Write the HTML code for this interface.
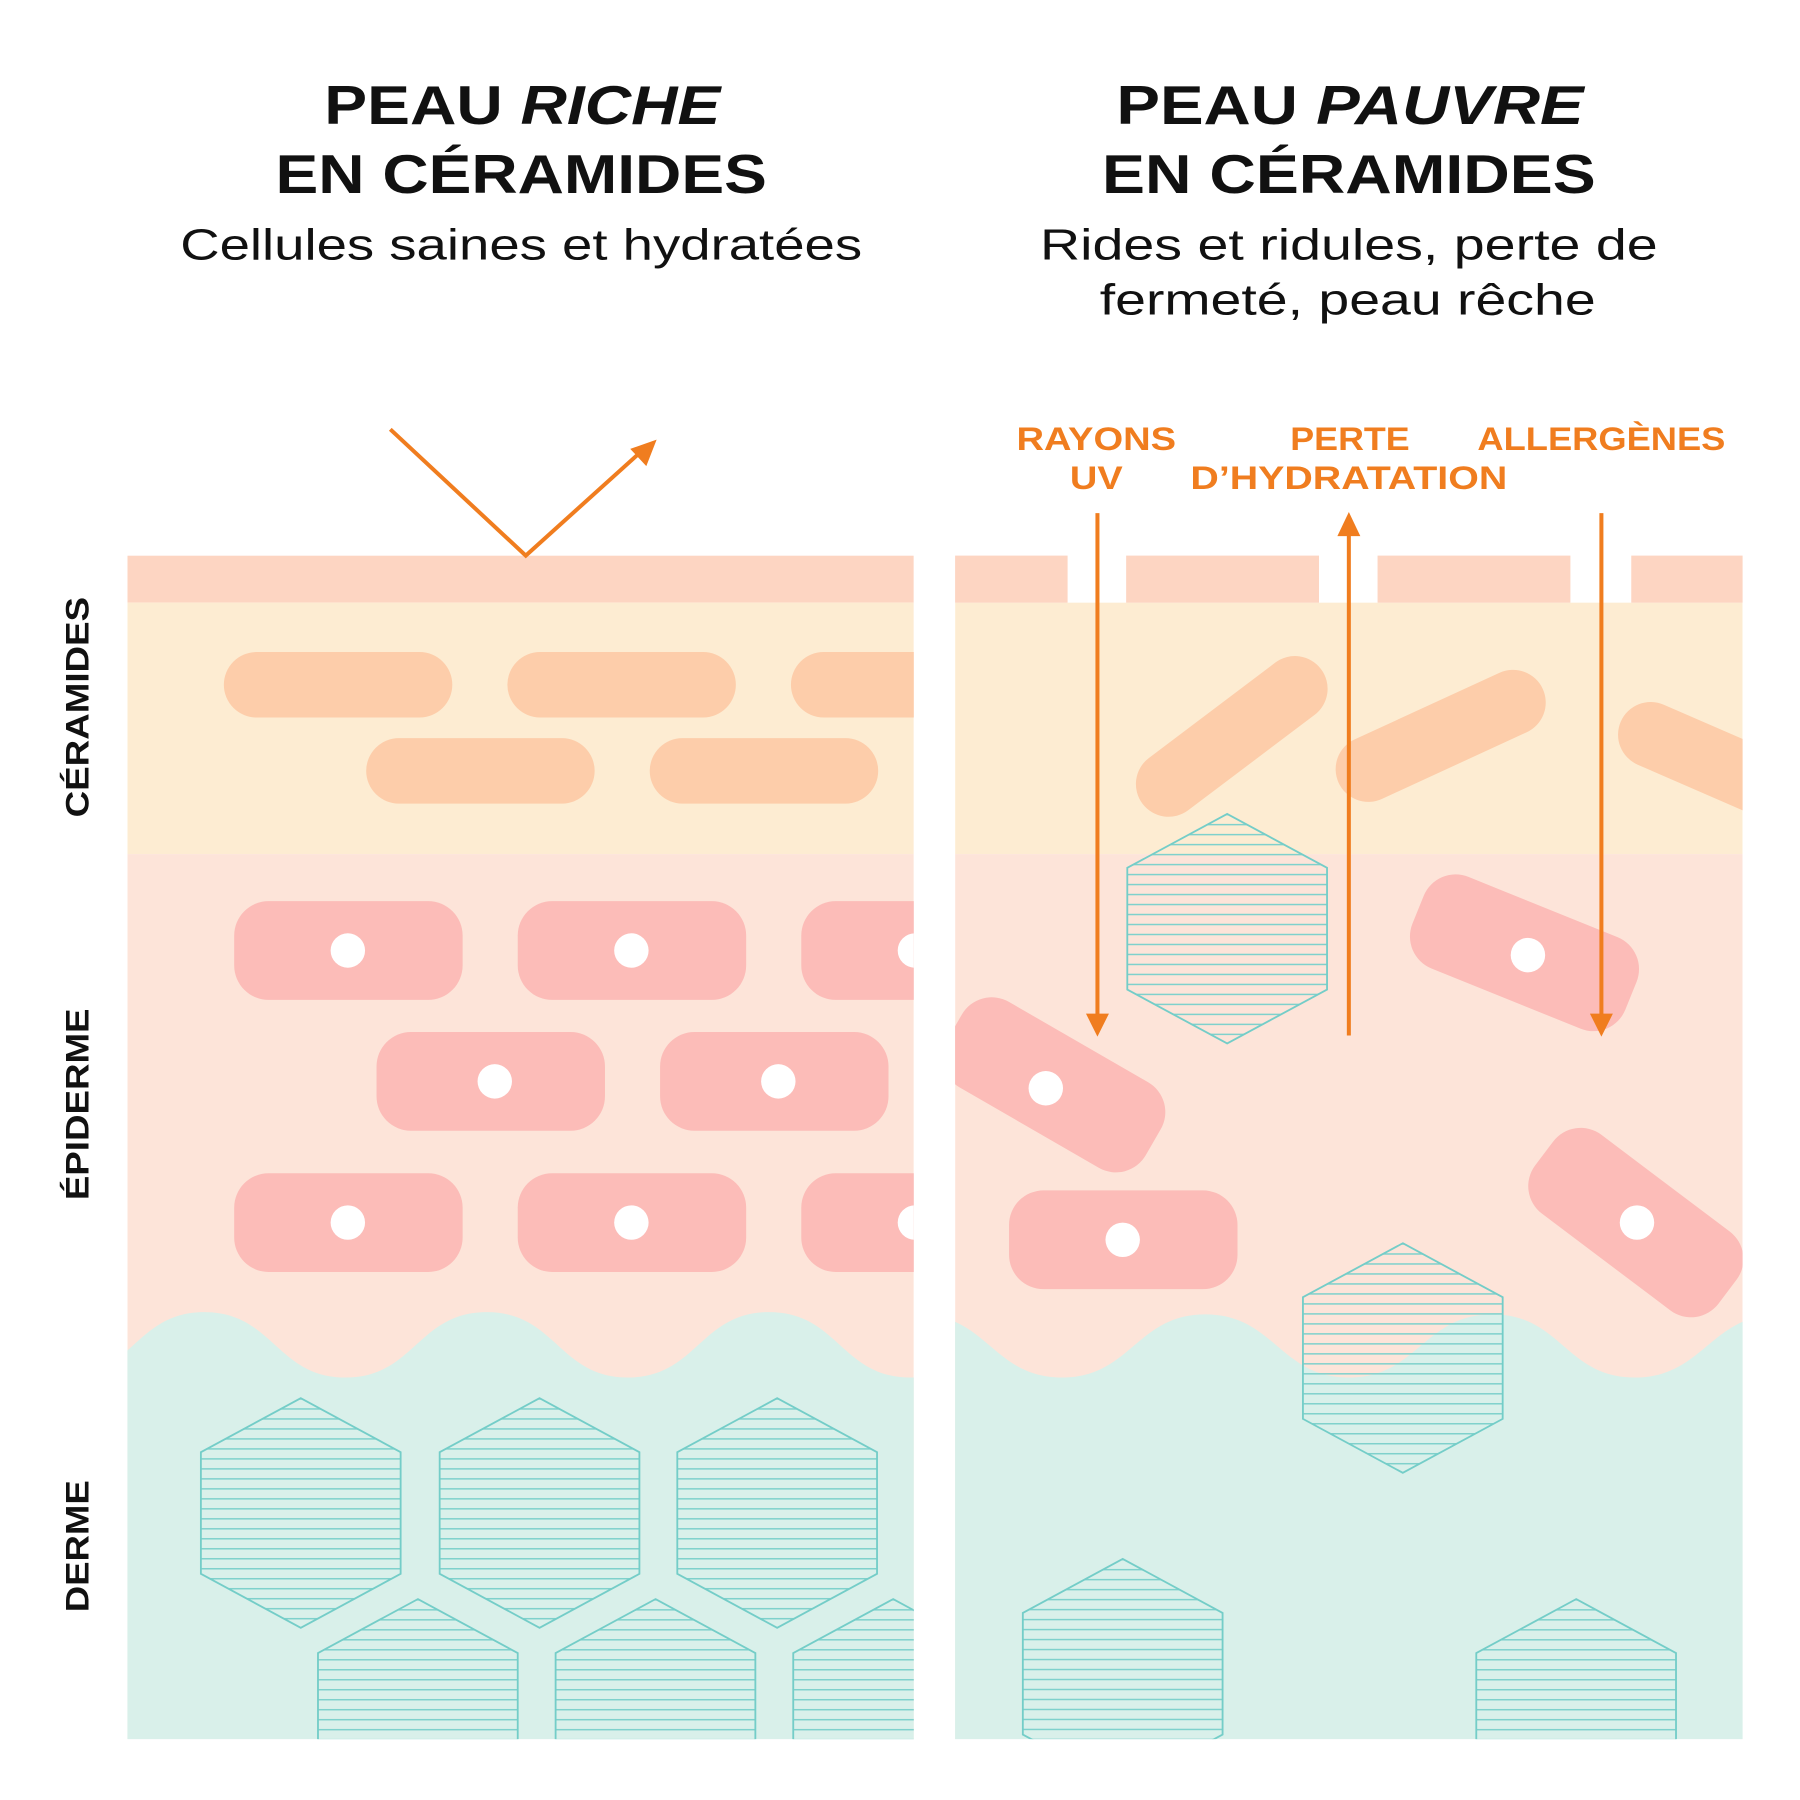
<!DOCTYPE html>
<html><head><meta charset="utf-8"><style>html,body{margin:0;padding:0;background:#fff}svg{display:block}</style></head><body>
<svg width="1800" height="1800" viewBox="0 0 1568 1568" xmlns="http://www.w3.org/2000/svg" font-family="'Liberation Sans', sans-serif">
<defs>
<pattern id="hatch" patternUnits="userSpaceOnUse" width="20" height="8.7"><line x1="0" y1="0.7" x2="20" y2="0.7" stroke="#7fd1cc" stroke-width="1.3"/></pattern>
<clipPath id="cl"><rect x="111" y="484" width="685" height="1031"/></clipPath>
<clipPath id="cr"><rect x="832" y="484" width="686" height="1031"/></clipPath>
<g id="hex"><path d="M0,0 L87,47 L87,153 L0,200 L-87,153 L-87,47 Z" fill="url(#hatch)" stroke="#74cdc8" stroke-width="1.6"/></g>
</defs>
<rect width="1568" height="1568" fill="#fff"/>

<!-- LEFT PANEL -->
<g clip-path="url(#cl)">
<rect x="111" y="484" width="685" height="41" fill="#fdd5c2"/>
<rect x="111" y="525" width="685" height="219" fill="#fdecd2"/>
<rect x="111" y="744" width="685" height="771" fill="#fde4d9"/>
<g fill="#fdcdaa">
<rect x="195" y="568" width="199" height="57" rx="28.5"/><rect x="442" y="568" width="199" height="57" rx="28.5"/><rect x="689" y="568" width="199" height="57" rx="28.5"/>
<rect x="319" y="643" width="199" height="57" rx="28.5"/><rect x="566" y="643" width="199" height="57" rx="28.5"/>
</g>
<g fill="#fcbcb8">
<rect x="204" y="785" width="199" height="86" rx="30"/><rect x="451" y="785" width="199" height="86" rx="30"/><rect x="698" y="785" width="199" height="86" rx="30"/>
<rect x="328" y="899" width="199" height="86" rx="30"/><rect x="575" y="899" width="199" height="86" rx="30"/>
<rect x="204" y="1022" width="199" height="86" rx="30"/><rect x="451" y="1022" width="199" height="86" rx="30"/><rect x="698" y="1022" width="199" height="86" rx="30"/>
</g>
<g fill="#fff">
<circle cx="303" cy="828" r="15"/><circle cx="550" cy="828" r="15"/><circle cx="797" cy="828" r="15"/>
<circle cx="431" cy="942" r="15"/><circle cx="678" cy="942" r="15"/>
<circle cx="303" cy="1065" r="15"/><circle cx="550" cy="1065" r="15"/><circle cx="797" cy="1065" r="15"/>
</g>
<path d="M55,1200 C115,1200 118,1143 178,1143 C238,1143 241,1200 301,1200 C361,1200 364,1143 424,1143 C484,1143 487,1200 547,1200 C607,1200 610,1143 670,1143 C730,1143 733,1200 793,1200 C853,1200 856,1143 916,1143 L916,1600 L55,1600 Z" fill="#d9f0ea"/>
<use href="#hex" x="262" y="1218"/><use href="#hex" x="470" y="1218"/><use href="#hex" x="677" y="1218"/>
<use href="#hex" x="364" y="1393"/><use href="#hex" x="571" y="1393"/><use href="#hex" x="778" y="1393"/>
</g>

<!-- RIGHT PANEL -->
<g clip-path="url(#cr)">
<rect x="832" y="525" width="686" height="219" fill="#fdecd2"/>
<rect x="832" y="744" width="686" height="771" fill="#fde4d9"/>
<path d="M675,1200 C735,1200 740,1145 800,1145 C860,1145 865,1200 925,1200 C985,1200 990,1145 1050,1145 C1110,1145 1115,1200 1175,1200 C1235,1200 1240,1145 1300,1145 C1360,1145 1364,1200 1424,1200 C1484,1200 1490,1145 1550,1145 L1550,1600 L675,1600 Z" fill="#d9f0ea"/>
<g stroke="#fdcdaa" stroke-width="57" stroke-linecap="round" fill="none">
<line x1="1018" y1="683" x2="1128" y2="600"/>
<line x1="1192" y1="670" x2="1318" y2="612"/>
<line x1="1438" y1="640" x2="1530" y2="680"/>
</g>
<use href="#hex" x="1069" y="709"/>
<g fill="#fcbcb8">
<rect x="-100" y="-43" width="200" height="86" rx="30" transform="translate(918,945) rotate(30)"/>
<rect x="-100" y="-43" width="200" height="86" rx="30" transform="translate(1328,830) rotate(22)"/>
<rect x="879" y="1037" width="199" height="86" rx="30"/>
<rect x="-100" y="-43" width="200" height="86" rx="30" transform="translate(1425,1065) rotate(37)"/>
</g>
<g fill="#fff">
<circle cx="911" cy="948" r="15"/><circle cx="1331" cy="832" r="15"/><circle cx="978" cy="1080" r="15"/><circle cx="1426" cy="1065" r="15"/>
</g>
<use href="#hex" x="1222" y="1083"/>
<use href="#hex" x="978" y="1358"/>
<use href="#hex" x="1373" y="1393"/>
</g>
<g fill="#fdd5c2">
<rect x="832" y="484" width="98" height="41"/><rect x="981" y="484" width="168" height="41"/><rect x="1200" y="484" width="168" height="41"/><rect x="1421" y="484" width="97" height="41"/>
</g>

<!-- ARROWS -->
<g stroke="#f07d1f" stroke-width="3.5" fill="none">
<polyline points="340,374 458,484 560,392"/>
<line x1="956" y1="447" x2="956" y2="886"/>
<line x1="1175" y1="465" x2="1175" y2="902"/>
<line x1="1395" y1="447" x2="1395" y2="886"/>
</g>
<g fill="#f07d1f">
<polygon points="572,383 563,406 549,391"/>
<polygon points="956,903 946,883 966,883"/>
<polygon points="1175,446 1165,467 1185,467"/>
<polygon points="1395,903 1385,883 1405,883"/>
</g>

<!-- TITLES -->
<g fill="#111" font-weight="bold" font-size="48" text-anchor="middle">
<text x="455" y="108" textLength="345" lengthAdjust="spacingAndGlyphs">PEAU <tspan font-style="italic">RICHE</tspan></text>
<text x="454" y="168" textLength="428" lengthAdjust="spacingAndGlyphs">EN CÉRAMIDES</text>
<text x="1176" y="108" textLength="407" lengthAdjust="spacingAndGlyphs">PEAU <tspan font-style="italic">PAUVRE</tspan></text>
<text x="1175" y="168" textLength="430" lengthAdjust="spacingAndGlyphs">EN CÉRAMIDES</text>
</g>
<g fill="#111" font-size="38" text-anchor="middle">
<text x="454" y="226" textLength="594" lengthAdjust="spacingAndGlyphs">Cellules saines et hydratées</text>
<text x="1175" y="226" textLength="538" lengthAdjust="spacingAndGlyphs">Rides et ridules, perte de</text>
<text x="1174" y="274" textLength="432" lengthAdjust="spacingAndGlyphs">fermeté, peau rêche</text>
</g>
<g fill="#f07d1f" font-weight="bold" font-size="28" text-anchor="middle">
<text x="955" y="392" textLength="139" lengthAdjust="spacingAndGlyphs">RAYONS</text>
<text x="955" y="426" textLength="46" lengthAdjust="spacingAndGlyphs">UV</text>
<text x="1176" y="392" textLength="104" lengthAdjust="spacingAndGlyphs">PERTE</text>
<text x="1175" y="426" textLength="276" lengthAdjust="spacingAndGlyphs">D’HYDRATATION</text>
<text x="1395" y="392" textLength="216" lengthAdjust="spacingAndGlyphs">ALLERGÈNES</text>
</g>
<g fill="#111" font-weight="bold" font-size="28" text-anchor="middle">
<text transform="translate(77,616) rotate(-90)" textLength="192" lengthAdjust="spacingAndGlyphs">CÉRAMIDES</text>
<text transform="translate(77,962) rotate(-90)" textLength="167" lengthAdjust="spacingAndGlyphs">ÉPIDERME</text>
<text transform="translate(77,1347) rotate(-90)" textLength="115" lengthAdjust="spacingAndGlyphs">DERME</text>
</g>
</svg>
</body></html>
